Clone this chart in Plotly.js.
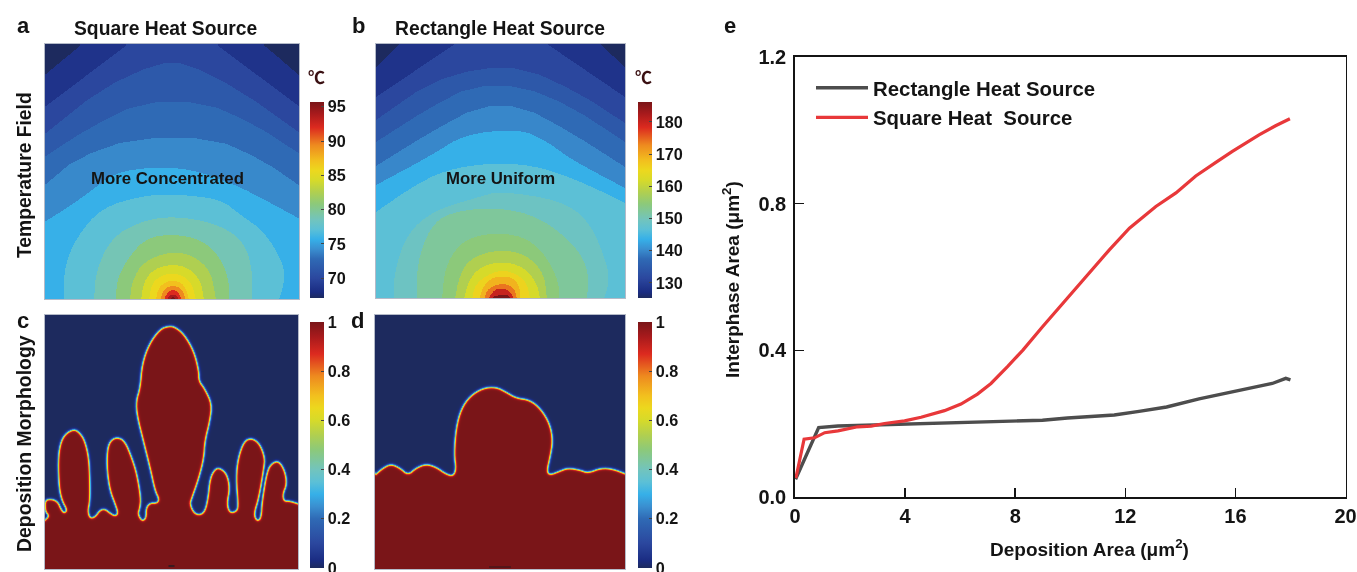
<!DOCTYPE html>
<html>
<head>
<meta charset="utf-8">
<script src="https://cdn.plot.ly/plotly-3.0.1.min.js"></script>
<style>html,body{margin:0;padding:0;background:#fff}#chart{width:1357px;height:572px;filter:blur(0.45px)}</style>
</head>
<body>
<div id="chart"></div>
<script>
// ---------- panel a: temperature bands, square heat source (deg C, coolest to hottest)
const squareLevels = [67.1,68.5,70,71.4,72.8,74,75.7,77.1,78.8,80.8,82.5,84.3,85.7,87.1,89.4,92,94,95.7];
const squareContours = [
  [[0,226],[35,255],[60,276],[190,276],[218,255],[254,224]],
  [[0,194],[81,255],[109,276],[143,276],[171,255],[254,193]],
  [[0,167],[55,211],[111,237],[141,237],[195,209],[254,167]],
  [[0,144],[41,171],[95,198],[158,198],[208,176],[254,146]],
  [[0,116],[31,142],[88,162],[168,162],[218,139],[254,114]],
  [[0,79],[21,92],[45,109],[68,127],[105,133],[145,131],[188,116],[221,99],[254,81]],
  [[18,0],[18,32],[30,62],[55,92],[95,104],[128,106],[175,101],[193,86],[218,69],[238,36],[238,16],[233,0]],
  [[48,0],[50,29],[65,62],[95,79],[128,84],[168,77],[195,62],[206,36],[206,0]],
  [[70,0],[71,22],[85,46],[101,62],[126,66],[155,61],[175,42],[183,19],[183,0]],
  [[84,0],[86,19],[98,39],[126,49],[148,44],[165,29],[170,0]],
  [[95,0],[98,19],[108,31],[126,36],[143,32],[155,19],[158,0]],
  [[103,0],[106,17],[115,24],[126,27],[138,24],[146,16],[150,0]],
  [[110,0],[112,11],[118,17],[127,20],[136,17],[141,9],[143,0]],
  [[114,0],[118,11],[127,15],[136,11],[140,0]],
  [[118,0],[121,7],[127,11],[133,7],[136,0]],
  [[121,0],[123,4],[127,6],[131,4],[133,0]],
  [[124,0],[127,4],[131,0]]
];
// ---------- panel b: temperature bands, rectangle heat source
const rectangleLevels = [125.3,128.3,131.4,134.4,137.5,139.9,143.6,146.6,149,152.1,154.5,158.2,161.8,165.5,169.1,174,180.1,186.2];
const rectangleContours = [
  [[0,232],[24,255],[45,276],[203,276],[224,255],[249,232]],
  [[0,202],[79,255],[110,276],[140,276],[171,255],[249,202]],
  [[0,179],[53,216],[103,231],[149,231],[203,206],[249,176]],
  [[0,157],[53,191],[96,213],[146,213],[196,192],[249,157]],
  [[0,133],[53,166],[103,193],[146,193],[196,166],[249,132]],
  [[0,114],[56,144],[89,165],[143,170],[169,159],[196,139],[249,111]],
  [[0,87],[36,112],[69,129],[113,136],[156,134],[196,121],[229,106],[249,96]],
  [[18,0],[18,26],[31,66],[59,89],[103,102],[124,108],[183,99],[213,79],[231,36],[233,16],[228,0]],
  [[41,0],[41,36],[54,72],[74,87],[121,92],[164,82],[201,52],[213,26],[211,0]],
  [[66,0],[69,32],[84,56],[104,64],[126,66],[151,61],[171,42],[183,16],[183,0]],
  [[79,0],[83,22],[94,41],[124,50],[151,44],[168,26],[171,0]],
  [[88,0],[93,19],[104,32],[126,38],[148,32],[161,16],[164,0]],
  [[96,0],[99,14],[111,24],[126,29],[141,25],[151,16],[154,0]],
  [[103,0],[108,14],[116,21],[126,23],[138,21],[144,11],[144,0]],
  [[108,0],[112,11],[126,16],[138,12],[141,0]],
  [[112,0],[118,9],[126,11],[134,8],[138,0]],
  [[114,0],[121,4],[133,4],[134,0]]
];
// ---------- panels c, d: deposit outline (phase = 1 below the outline, 0 above it)
const squareMorphology = [[0,50],[4,54],[0,59],[0,70],[7,71],[13,68],[16,61],[19,57],[22,60],[17,69],[14,82],[13,109],[15,126],[20,136],[29,141],[35,137],[40,129],[44,112],[45,89],[45,69],[43,59],[45,52],[50,53],[55,60],[60,61],[65,57],[70,54],[73,57],[70,66],[65,79],[62,99],[62,119],[65,129],[72,133],[80,129],[87,112],[92,96],[96,72],[95,62],[93,56],[97,49],[101,52],[101,62],[105,67],[112,67],[114,71],[110,79],[105,102],[99,126],[92,154],[91,169],[95,182],[97,206],[104,226],[115,241],[124,244],[130,243],[139,236],[149,219],[154,199],[154,189],[160,181],[167,166],[165,149],[160,129],[159,112],[154,92],[147,72],[145,66],[149,57],[155,55],[160,59],[163,72],[165,92],[170,101],[175,102],[182,96],[185,82],[182,66],[185,57],[192,59],[193,66],[191,92],[193,112],[199,129],[207,132],[215,126],[220,112],[219,102],[214,72],[209,56],[212,49],[216,52],[217,69],[222,99],[227,107],[234,109],[240,99],[242,86],[238,76],[239,69],[245,69],[254,66]];
const rectangleMorphology = [[0,96],[7,102],[15,106],[24,102],[32,95],[40,102],[50,106],[60,103],[70,96],[77,94],[80,101],[78,116],[80,142],[85,161],[94,174],[107,182],[120,183],[130,178],[140,172],[154,170],[165,161],[174,146],[177,129],[174,112],[171,99],[174,95],[184,99],[192,102],[204,100],[212,97],[225,102],[237,101],[250,96]];
// ---------- panel e: interphase area against deposition area
const rectangleX = [0.02,0.86,1.56,2.53,3.61,4.46,5.67,7.24,8.99,9.9,11.6,12.5,13.5,14.68,15.65,16.6,17.34,17.83,18];
const rectangleY = [0.049,0.19,0.194,0.196,0.197,0.199,0.203,0.205,0.21,0.216,0.224,0.234,0.246,0.268,0.283,0.30,0.31,0.324,0.32];
const squareX = [0.03,0.33,0.71,1.08,1.56,2.28,2.77,3.25,3.98,4.58,5.43,6.03,6.63,7.12,7.72,8.28,9.0,9.85,10.21,10.82,11.42,12.15,13.11,13.84,14.56,15.29,15.89,16.86,17.46,17.98];
const squareY = [0.052,0.158,0.162,0.176,0.181,0.192,0.194,0.201,0.208,0.218,0.236,0.254,0.281,0.31,0.356,0.401,0.465,0.538,0.569,0.624,0.674,0.733,0.792,0.829,0.875,0.912,0.942,0.987,1.012,1.031];
// ---------- colours and ticks
const fieldColors = [[0,'#1d2a5e'],[0.03,'#1a2c82'],[0.1,'#2b479e'],[0.2,'#2f6ab5'],[0.25,'#3a8fd0'],[0.3,'#36b0e8'],[0.35,'#5cc0d6'],[0.4,'#72c4bd'],[0.48,'#8cc97a'],[0.54,'#b0cf50'],[0.6,'#d6da2a'],[0.65,'#ecd81e'],[0.7,'#f2c01e'],[0.78,'#ee8a1f'],[0.87,'#dc2a1f'],[0.94,'#a81a1c'],[1,'#7a1518']];
const squareTicks = [70,75,80,85,90,95];
const rectangleTicks = [130,140,150,160,170,180];
const phaseTicks = [0,0.2,0.4,0.6,0.8,1];
const phaseTickText = ['0','0.2','0.4','0.6','0.8','1'];
const lineXTicks = [0,4,8,12,16,20];
const lineYTicks = [0,0.4,0.8,1.2];
const lineYTickText = ['0.0','0.4','0.8','1.2'];

const W = 1357, H = 572, FONT = '"Liberation Sans", Arial, sans-serif', INK = '#141414';
const px = v => v / W, py = v => 1 - v / H;

// round the corners of a read outline, keeping both ends where they are
function rounded(path, passes) {
  let p = path;
  for (let n = 0; n < passes; n++) {
    const q = [p[0]];
    for (let i = 0; i < p.length - 1; i++) {
      const [ax, ay] = p[i], [bx, by] = p[i + 1];
      q.push([0.75 * ax + 0.25 * bx, 0.75 * ay + 0.25 * by], [0.25 * ax + 0.75 * bx, 0.25 * ay + 0.75 * by]);
    }
    q.push(p[p.length - 1]);
    p = q;
  }
  return p;
}
function closed(path) {
  const a = path[0], b = path[path.length - 1];
  return path.concat([[b[0] > 240 ? 300 : b[0], b[1]], [b[0] > 240 ? 300 : b[0], -5], [a[0] < 1 ? -5 : a[0], -5], [a[0] < 1 ? -5 : a[0], a[1]]]);
}
function inside(poly, x, y) {
  let c = false;
  for (let i = 0, j = poly.length - 1; i < poly.length; j = i++) {
    const [xi, yi] = poly[i], [xj, yj] = poly[j];
    if ((yi > y) !== (yj > y) && x < (xj - xi) * (y - yi) / (yj - yi) + xi) c = !c;
  }
  return c;
}
function distance(path, x, y) {
  let best = 1e9;
  for (let i = 0; i < path.length - 1; i++) {
    const [ax, ay] = path[i], [bx, by] = path[i + 1];
    const dx = bx - ax, dy = by - ay, l = dx * dx + dy * dy;
    const t = l ? Math.max(0, Math.min(1, ((x - ax) * dx + (y - ay) * dy) / l)) : 0;
    const ex = ax + t * dx - x, ey = ay + t * dy - y, d = ex * ex + ey * ey;
    if (d < best) best = d;
  }
  return Math.sqrt(best);
}
const cells = (n, step) => Array.from({length: n}, (_, i) => (i + 0.5) * step);
function fieldGrid(levels, contours, w, h, step) {
  const xs = cells(Math.round(w / step), step), ys = cells(Math.round(h / step), step);
  const polys = contours.map((c, k) => closed(rounded(c, k < 5 ? 1 : 2)));
  const z = ys.map(y => xs.map(x => {
    let v = levels[0];
    polys.forEach((p, k) => { if (inside(p, x, y)) v = levels[k + 1]; });
    return v;
  }));
  return {x: xs, y: ys, z};
}
function phaseGrid(outline, w, h, step, width) {
  const xs = cells(Math.round(w / step), step), ys = cells(Math.round(h / step), step);
  const line = rounded(outline, 2), poly = closed(line);
  const z = ys.map(y => xs.map(x => {
    const s = (inside(poly, x, y) ? 1 : -1) * distance(line, x, y);
    return 0.5 * (1 + Math.tanh(s / width));
  }));
  return {x: xs, y: ys, z};
}
function bar(top, len, left, ticks, text) {
  const c = {
    x: px(left), xanchor: 'left', xref: 'paper', xpad: 0, ypad: 0,
    y: py(top), yanchor: 'top', yref: 'paper', len, lenmode: 'pixels',
    thickness: 14, thicknessmode: 'pixels', outlinewidth: 0,
    tickmode: 'array', tickvals: ticks, ticks: 'inside', ticklen: 3, tickwidth: 1, tickcolor: '#444',
    ticklabeloverflow: 'allow',
    tickfont: {family: FONT, size: 16.2, weight: 700, color: INK}
  };
  if (text) c.ticktext = text;
  return c;
}
function heat(g, axis, lo, hi, cb) {
  return {type: 'heatmap', x: g.x, y: g.y, z: g.z, zmin: lo, zmax: hi, zsmooth: 'best',
    colorscale: fieldColors, colorbar: cb, xaxis: 'x' + axis, yaxis: 'y' + axis, showlegend: false, hoverinfo: 'skip'};
}
const traces = [
  heat(fieldGrid(squareLevels, squareContours, 254, 255, 1), '', 67.1, 95.7, bar(102, 196, 310, squareTicks)),
  heat(fieldGrid(rectangleLevels, rectangleContours, 250, 255, 1), '2', 125.3, 186.2, bar(102, 196, 638, rectangleTicks)),
  heat(phaseGrid(squareMorphology, 254, 254, 1, 1.3), '3', 0, 1, bar(322, 246, 310, phaseTicks, phaseTickText)),
  heat(phaseGrid(rectangleMorphology, 250, 254, 1, 1.3), '4', 0, 1, bar(322, 246, 638, phaseTicks, phaseTickText)),
  {type: 'scatter', mode: 'lines', name: 'Rectangle Heat Source', x: rectangleX, y: rectangleY,
    xaxis: 'x5', yaxis: 'y5', line: {color: '#4d4d4d', width: 3.4}},
  {type: 'scatter', mode: 'lines', name: 'Square Heat  Source', x: squareX, y: squareY,
    xaxis: 'x5', yaxis: 'y5', line: {color: '#e8383a', width: 3.2}}
];
function fieldX(l, r, range, anchor) {
  return {domain: [px(l), px(r)], range, anchor, showgrid: false, zeroline: false, ticks: '', showticklabels: false,
    showline: true, mirror: true, linecolor: '#b4bac8', linewidth: 1, fixedrange: true};
}
function fieldY(bottom, top, range, anchor) {
  return Object.assign(fieldX(0, 1, range, anchor), {domain: [py(bottom), py(top)]});
}
function note(text, x, y, size, extra) {
  return Object.assign({text, x: px(x), y: py(y), xref: 'paper', yref: 'paper', showarrow: false,
    xanchor: 'center', yanchor: 'middle', font: {family: FONT, size, weight: 700, color: INK}}, extra || {});
}
const tickFontE = {family: FONT, size: 20, weight: 700, color: INK};
const layout = {
  width: W, height: H, margin: {l: 0, r: 0, t: 0, b: 0}, paper_bgcolor: '#fff', plot_bgcolor: '#fff',
  xaxis:  fieldX(45, 299, [0, 254], 'y'),
  yaxis:  fieldY(299, 44, [0, 255], 'x'),
  xaxis2: fieldX(376, 625, [0, 250], 'y2'),
  yaxis2: fieldY(298, 44, [0, 255], 'x2'),
  xaxis3: fieldX(45, 298, [0, 254], 'y3'),
  yaxis3: fieldY(569, 315, [0, 254], 'x3'),
  xaxis4: fieldX(375, 625, [0, 250], 'y4'),
  yaxis4: fieldY(569, 315, [0, 254], 'x4'),
  xaxis5: {domain: [px(795), px(1345.5)], range: [0, 20], anchor: 'y5', tickmode: 'array', tickvals: lineXTicks,
    ticks: 'inside', ticklen: 9, tickwidth: 1.5, tickcolor: INK, showgrid: false, zeroline: false, ticklabeloverflow: 'allow',
    showline: true, mirror: true, linecolor: INK, linewidth: 1.8, tickfont: tickFontE, fixedrange: true},
  yaxis5: {domain: [py(497.3), py(56.7)], range: [0, 1.2], anchor: 'x5', tickmode: 'array', tickvals: lineYTicks, ticktext: lineYTickText,
    ticks: 'inside', ticklen: 9, tickwidth: 1.5, tickcolor: INK, showgrid: false, zeroline: false, ticklabelstandoff: 3,
    showline: true, mirror: true, linecolor: INK, linewidth: 1.8, tickfont: tickFontE, fixedrange: true},
  showlegend: true,
  legend: {x: px(811), y: py(68), xanchor: 'left', yanchor: 'top', xref: 'paper', yref: 'paper', bgcolor: 'rgba(0,0,0,0)',
    itemwidth: 52, tracegroupgap: 0, font: {family: FONT, size: 20.4, weight: 700, color: INK}, traceorder: 'normal'},
  shapes: [
    {type: 'line', xref: 'x3', yref: 'y3', x0: 124, x1: 130, y0: 3, y1: 3, line: {color: '#3a1a20', width: 2}},
    {type: 'line', xref: 'x4', yref: 'y4', x0: 114, x1: 136, y0: 2, y1: 2, line: {color: '#30181c', width: 1}}
  ],
  annotations: [
    note('a', 23, 26, 22), note('b', 358, 26, 22), note('c', 23, 320, 22), note('d', 357, 320, 22), note('e', 730, 25, 22),
    note('Square Heat Source', 166, 28, 19.3), note('Rectangle Heat Source', 500, 28, 19.3),
    note('Temperature Field', 24, 175, 19.3, {textangle: -90}),
    note('Deposition Morphology', 24, 444, 19.4, {textangle: -90}),
    note('More Concentrated', 167, 178, 16.8), note('More Uniform', 500, 178, 16.8),
    note('℃', 316, 76, 17, {font: {family: '"Noto Sans CJK SC", sans-serif', size: 17, weight: 700, color: '#3a1012'}}),
    note('℃', 643, 76, 17, {font: {family: '"Noto Sans CJK SC", sans-serif', size: 17, weight: 700, color: '#3a1012'}}),
    note('Deposition Area (μm<sup>2</sup>)', 1089, 548, 19),
    note('Interphase Area (μm<sup>2</sup>)', 731, 280, 19, {textangle: -90})
  ]
};
Plotly.newPlot('chart', traces, layout, {displayModeBar: false, staticPlot: true});
</script>
</body>
</html>
